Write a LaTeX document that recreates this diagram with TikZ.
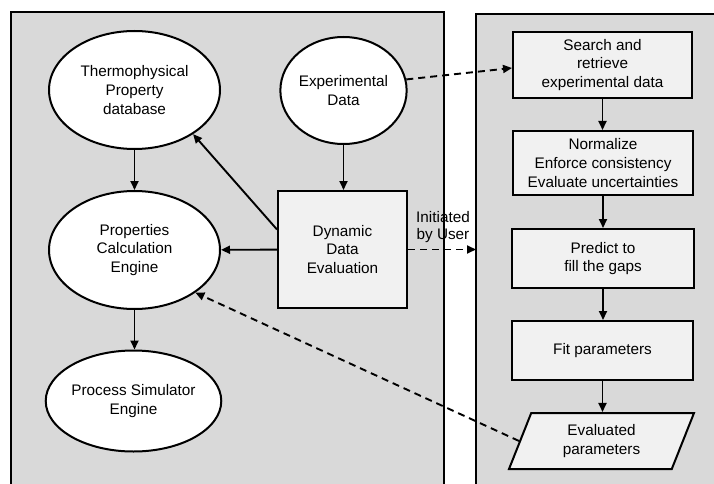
\documentclass[tikz,border=0pt]{standalone}
\usepackage{fontspec}
\setmainfont{Liberation Sans}
\usetikzlibrary{shapes.geometric,arrows.meta}
\definecolor{panelgray}{RGB}{217,217,217}
\definecolor{boxgray}{RGB}{241,241,241}
\begin{document}
\begin{tikzpicture}[x=1pt,y=-1pt,
	every node/.style={font=\fontsize{15.3}{18.7}\selectfont,align=center,inner sep=0pt},
	panel/.style={draw=black,line width=2pt,fill=panelgray},
	blob/.style={ellipse,draw=black,line width=2pt,fill=white},
	stepbox/.style={rectangle,draw=black,line width=2pt,fill=boxgray},
	arr/.style={line width=1.9pt,-{Triangle[length=9pt,width=8pt]}},
	darr/.style={arr,dash pattern=on 7pt off 5pt}]
				\useasboundingbox (0,0) rectangle (714,484);

				\draw[panel] (11,12.5) rectangle (444,500);
				\draw[panel] (476,14) rectangle (730,500);

				\node[blob,minimum width=171pt,minimum height=118pt] (thermo) at (134.5,90) {Thermophysical\\Property\\database};
				\node[blob,minimum width=123pt,minimum height=107pt] (exp) at (343.5,90.5) {Experimental\\Data};
				\node[blob,minimum width=171pt,minimum height=118pt] (calc) at (134.5,250) {Properties\\Calculation\\Engine};
				\node[blob,minimum width=169pt,minimum height=101pt] (sim) at (133.5,401) {Process Simulator\\Engine};
				\node[stepbox,minimum width=129pt,minimum height=117pt] (dde) at (342.5,249.5) {Dynamic\\Data\\Evaluation};

				\node[stepbox,minimum width=179pt,minimum height=66pt] (search) at (602.5,65) {Search and\\retrieve\\experimental data};
				\node[stepbox,minimum width=180pt,minimum height=64pt] (norm) at (603,163) {Normalize\\Enforce consistency\\Evaluate uncertainties};
				\node[stepbox,minimum width=182pt,minimum height=59pt] (predict) at (603,258.5) {Predict to\\fill the gaps};
				\node[stepbox,minimum width=181pt,minimum height=59pt] (fit) at (602.5,350.5) {Fit parameters};
				\node[trapezium,trapezium left angle=56,trapezium right angle=124,trapezium stretches body,
					draw=black,line width=2pt,fill=boxgray,minimum width=185pt,minimum height=56pt] (eval) at (601.5,441) {Evaluated\\parameters};

				\coordinate (entry) at (476,249.5);
				\node[font=\fontsize{15.3}{16.3}\selectfont] (user) at (443,227) {Initiated\\by User};

				\draw[arr] (thermo) -- (calc);
				\draw[arr] (exp.south) -- (exp.south |- dde.north);
				\draw[arr] ([yshift=20pt]dde.west) -- (thermo.-37);
				\draw[arr] (dde) -- (calc);
				\draw[arr] (calc.south) -- (calc.south |- sim.north);

				\foreach \a/\b in {search/norm,norm/predict,predict/fit,fit/eval}
				{
					\draw[arr] (\a.south) -- (\a.south |- \b.north);
				}

				\draw[darr] (exp.10) -- ([yshift=-3pt]search.west);
				\draw[darr] (dde.east) -- (entry);
				\draw[darr] (eval.west) -- (calc.-35);

\end{tikzpicture}
\end{document}
